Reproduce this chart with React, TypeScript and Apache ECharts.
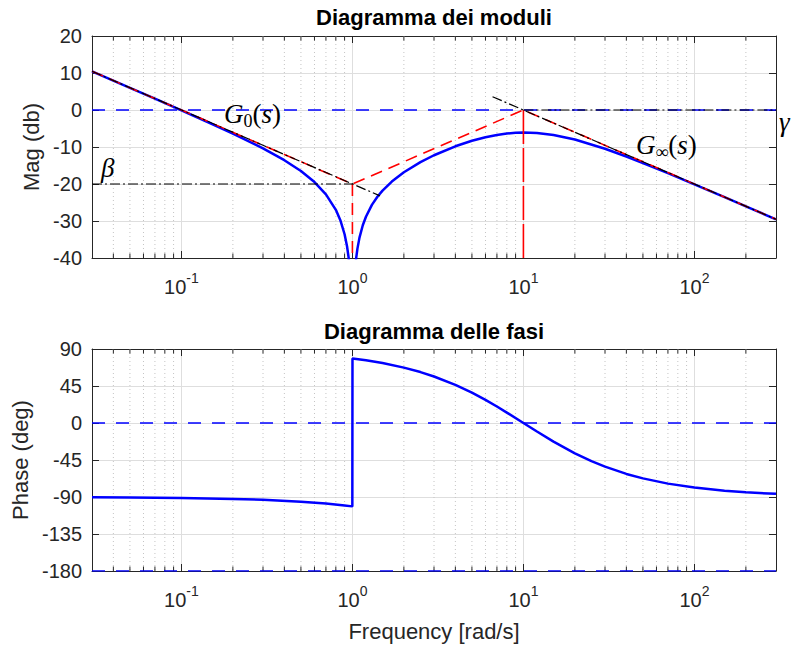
import React, { useEffect, useRef } from "react";
import * as echarts from "echarts";

// ---------- data ----------
// magnitude curve (rad/s, dB)
const magW = [0.03, 0.05, 0.07, 0.1, 0.15, 0.2, 0.3, 0.4, 0.5, 0.6, 0.7, 0.8, 0.85, 0.9, 0.93, 0.95, 0.97, 0.99, 0.999, 1.001, 1.01, 1.03, 1.05, 1.07, 1.1, 1.15, 1.2, 1.3, 1.4, 1.5, 1.7, 2, 2.5, 3, 4, 5, 6, 7, 8, 9, 10, 12, 15, 20, 30, 40, 50, 70, 100, 150, 200, 300];
const magDb = [10.45, 6.0, 3.06, -0.09, -3.72, -6.38, -10.37, -13.57, -16.5, -19.47, -22.79, -26.99, -29.78, -33.58, -36.83, -39.85, -44.39, -54.02, -74.06, -74.08, -54.11, -44.66, -40.31, -37.47, -34.49, -31.16, -28.84, -25.65, -23.45, -21.78, -19.33, -16.82, -14.08, -12.23, -9.81, -8.32, -7.35, -6.74, -6.37, -6.17, -6.11, -6.22, -6.76, -7.98, -10.46, -12.57, -14.32, -17.08, -20.09, -23.56, -26.04, -29.55];

// phase curve (rad/s, deg)
const phW = [0.03, 0.05, 0.1, 0.2, 0.3, 0.5, 0.7, 0.9, 0.999, 1.001, 1.2, 1.5, 2, 2.5, 3, 4, 5, 6, 7, 8, 10, 12, 15, 20, 25, 30, 40, 50, 70, 100, 150, 200, 300];
const phDeg = [-90.34, -90.57, -91.15, -92.29, -93.44, -95.72, -98.01, -100.29, -101.41, 78.57, 76.31, 72.94, 67.38, 61.93, 56.6, 46.4, 36.87, 28.07, 20.02, 12.68, 0, -10.39, -22.62, -36.87, -46.4, -53.13, -61.93, -67.38, -73.74, -78.58, -82.37, -84.28, -86.18];

// asymptotic (Bode) diagram, red dashed
const asymW = [0.03, 1, 10, 300];
const asymDb = [10.46, -20, 0, -29.54];
const notchDropW = [1, 1];
const notchDropDb = [-20, -40];
const poleDropW = [10, 10];
const poleDropDb = [0, -40];

// black dash-dot construction lines
const g0W = [0.03, 1.45];
const g0Db = [10.46, -23.2];
const betaW = [0.03, 1];
const betaDb = [-20, -20];
const gInfW = [6.6, 300];
const gInfDb = [3.6, -29.54];
const gammaW = [10, 300];
const gammaDb = [0, 0];

// blue dashed reference lines
const refW = [0.03, 300];
const refMagDb = [0, 0];
const refPh0 = [0, 0];
const refPh180 = [-180, -180];

// axes
const freqMin = 0.03;
const freqMax = 300;
const magMin = -40;
const magMax = 20;
const magStep = 10;
const phMin = -180;
const phMax = 90;
const phStep = 45;
const minorFreqs = [0.04, 0.05, 0.06, 0.07, 0.08, 0.09, 0.2, 0.3, 0.4, 0.5, 0.6, 0.7, 0.8, 0.9, 2, 3, 4, 5, 6, 7, 8, 9, 20, 30, 40, 50, 60, 70, 80, 90, 200];

const titleMag = "Diagramma dei moduli";
const titlePh = "Diagramma delle fasi";
const nameMag = "Mag (db)";
const namePh = "Phase (deg)";
const nameFreq = "Frequency [rad/s]";

// ---------- styling ----------
const sans = "'Liberation Sans', Arial, Helvetica, sans-serif";
const serif = "'Liberation Serif', 'Times New Roman', serif";
const axisColor = "#262626";
const gridColor = "#dedede";
const minorColor = "#c4c4c4";

const zip = (xs: number[], ys: number[]) => xs.map((x, i) => [x, ys[i]]);

const isDecade = (v: number) => {
  const l = Math.log10(v);
  return Math.abs(l - Math.round(l)) < 1e-6;
};

const xAxisDef = (gridIndex: number, position: "top" | "bottom", main: boolean, name?: string) => ({
  type: "log",
  logBase: 10,
  min: freqMin,
  max: freqMax,
  gridIndex,
  position,
  name: name || "",
  nameLocation: "middle",
  nameGap: 49,
  nameTextStyle: { fontSize: 22, color: axisColor, fontFamily: sans },
  axisLine: { show: true, onZero: false, lineStyle: { color: axisColor, width: 1 } },
  axisTick: { show: true, inside: true, length: 7, lineStyle: { color: axisColor, width: 1 } },
  axisLabel: {
    show: main,
    margin: 13,
    formatter: (v: number) => (isDecade(v) ? `{b|10}{s|${Math.round(Math.log10(v))}}` : ""),
    rich: {
      b: { fontSize: 20, fontFamily: sans, color: axisColor, lineHeight: 31 },
      s: { fontSize: 14, fontFamily: sans, color: axisColor, lineHeight: 15, verticalAlign: "top" },
    },
  },
  splitLine: { show: main, lineStyle: { color: gridColor, width: 1 } },
  minorTick: { show: false },
  minorSplitLine: { show: false },
});

const yAxisDef = (
  gridIndex: number,
  position: "left" | "right",
  main: boolean,
  min: number,
  max: number,
  interval: number,
  name: string,
  nameGap: number
) => ({
  type: "value",
  gridIndex,
  position,
  min,
  max,
  interval,
  name: main ? name : "",
  nameLocation: "middle",
  nameGap,
  nameTextStyle: { fontSize: 22, color: axisColor, fontFamily: sans },
  axisLine: { show: true, onZero: false, lineStyle: { color: axisColor, width: 1 } },
  axisTick: { show: true, inside: true, length: 7, lineStyle: { color: axisColor, width: 1 } },
  axisLabel: { show: main, fontSize: 20, fontFamily: sans, color: axisColor, margin: 10 },
  splitLine: { show: main, lineStyle: { color: gridColor, width: 1 } },
});

const lineSeries = (
  data: number[][],
  color: string,
  width: number,
  dash: any,
  xi: number,
  yi: number,
  z: number
) => ({
  type: "line",
  data,
  xAxisIndex: xi,
  yAxisIndex: yi,
  showSymbol: false,
  symbol: "none",
  silent: true,
  z,
  lineStyle: { color, width, type: dash, cap: "butt" },
});

const minorSeries = (xi: number, yi: number, yRef: number) => ({
  type: "custom",
  xAxisIndex: xi,
  yAxisIndex: yi,
  silent: true,
  z: 1,
  data: minorFreqs.map((f) => [f, yRef]),
  encode: { x: 0, y: 1 },
  renderItem: (params: any, api: any) => {
    const px = api.coord([api.value(0), yRef])[0];
    const cs = params.coordSys;
    const top = cs.y;
    const bottom = cs.y + cs.height;
    return {
      type: "group",
      children: [
        {
          type: "line",
          shape: { x1: px, y1: top, x2: px, y2: bottom },
          style: { stroke: minorColor, lineWidth: 1, lineDash: [1, 3] },
        },
        {
          type: "line",
          shape: { x1: px, y1: top, x2: px, y2: top + 4.5 },
          style: { stroke: axisColor, lineWidth: 1 },
        },
        {
          type: "line",
          shape: { x1: px, y1: bottom, x2: px, y2: bottom - 4.5 },
          style: { stroke: axisColor, lineWidth: 1 },
        },
      ],
    };
  },
});

const dashBlue = [13, 11];
const dashRed = [12, 7];
const dashDot = [10, 3, 2, 3];

const mathText = (x: number, y: number, text: string, rich: any) => ({
  type: "text",
  x,
  y,
  z: 10,
  silent: true,
  style: {
    text,
    rich,
    fill: "#000",
    font: `27px ${serif}`,
    align: "left",
    verticalAlign: "middle",
    textAlign: "left",
    textVerticalAlign: "middle",
  },
});

const mathRich = {
  i: { fontSize: 27, fontFamily: serif, fontStyle: "italic", color: "#000", lineHeight: 32 },
  n: { fontSize: 27, fontFamily: serif, color: "#000", lineHeight: 32 },
  sub: { fontSize: 18, fontFamily: serif, color: "#000", lineHeight: 18, verticalAlign: "bottom" },
};

const titleText = (y: number, text: string) => ({
  type: "text",
  x: 434,
  y,
  silent: true,
  style: {
    text,
    font: `bold 22px ${sans}`,
    fill: "#000",
    align: "center",
    verticalAlign: "middle",
    textAlign: "center",
    textVerticalAlign: "middle",
  },
});

const option: any = {
  animation: false,
  backgroundColor: "#ffffff",
  grid: [
    { left: 92, top: 36, width: 684, height: 222, containLabel: false },
    { left: 92, top: 349, width: 684, height: 222, containLabel: false },
  ],
  xAxis: [
    xAxisDef(0, "bottom", true),
    xAxisDef(0, "top", false),
    xAxisDef(1, "bottom", true, nameFreq),
    xAxisDef(1, "top", false),
  ],
  yAxis: [
    yAxisDef(0, "left", true, magMin, magMax, magStep, nameMag, 48),
    yAxisDef(0, "right", false, magMin, magMax, magStep, nameMag, 48),
    yAxisDef(1, "left", true, phMin, phMax, phStep, namePh, 59),
    yAxisDef(1, "right", false, phMin, phMax, phStep, namePh, 59),
  ],
  graphic: [
    titleText(17, titleMag),
    titleText(331, titlePh),
    mathText(224, 114, "{i|G}{sub|0}{n|(}{i|s}{n|)}", mathRich),
    mathText(636, 145, "{i|G}{sub|∞}{n|(}{i|s}{n|)}", mathRich),
    mathText(101, 168, "{i|β}", mathRich),
    mathText(779, 122, "{i|γ}", mathRich),
  ],
  series: [
    minorSeries(0, 0, magMin),
    minorSeries(2, 2, phMin),
    // magnitude plot
    lineSeries(zip(refW, refMagDb), "#0000ff", 1.5, dashBlue, 0, 0, 2),
    lineSeries(zip(magW, magDb), "#0000ff", 2.5, "solid", 0, 0, 3),
    lineSeries(zip(asymW, asymDb), "#ff0000", 1.6, dashRed, 0, 0, 4),
    lineSeries(zip(notchDropW, notchDropDb), "#ff0000", 1.6, dashRed, 0, 0, 4),
    lineSeries(zip(poleDropW, poleDropDb), "#ff0000", 1.6, [34, 4], 0, 0, 4),
    lineSeries(zip(g0W, g0Db), "#000000", 1.2, dashDot, 0, 0, 5),
    lineSeries(zip(betaW, betaDb), "#000000", 1.2, dashDot, 0, 0, 5),
    lineSeries(zip(gInfW, gInfDb), "#000000", 1.2, dashDot, 0, 0, 5),
    lineSeries(zip(gammaW, gammaDb), "#000000", 1.2, dashDot, 0, 0, 5),
    // phase plot
    lineSeries(zip(refW, refPh0), "#0000ff", 1.5, dashBlue, 2, 2, 2),
    lineSeries(zip(refW, refPh180), "#0000ff", 1.5, dashBlue, 2, 2, 2),
    lineSeries(zip(phW, phDeg), "#0000ff", 2.5, "solid", 2, 2, 3),
  ],
};

export default function App() {
  const ref = useRef<HTMLDivElement>(null);
  useEffect(() => {
    document.body.style.margin = "0";
    const chart = echarts.init(ref.current as HTMLDivElement, null, { renderer: "svg" });
    chart.setOption(option);
    return () => {
      chart.dispose();
    };
  }, []);
  return <div ref={ref} style={{ width: 794, height: 646, background: "#fff" }} />;
}
